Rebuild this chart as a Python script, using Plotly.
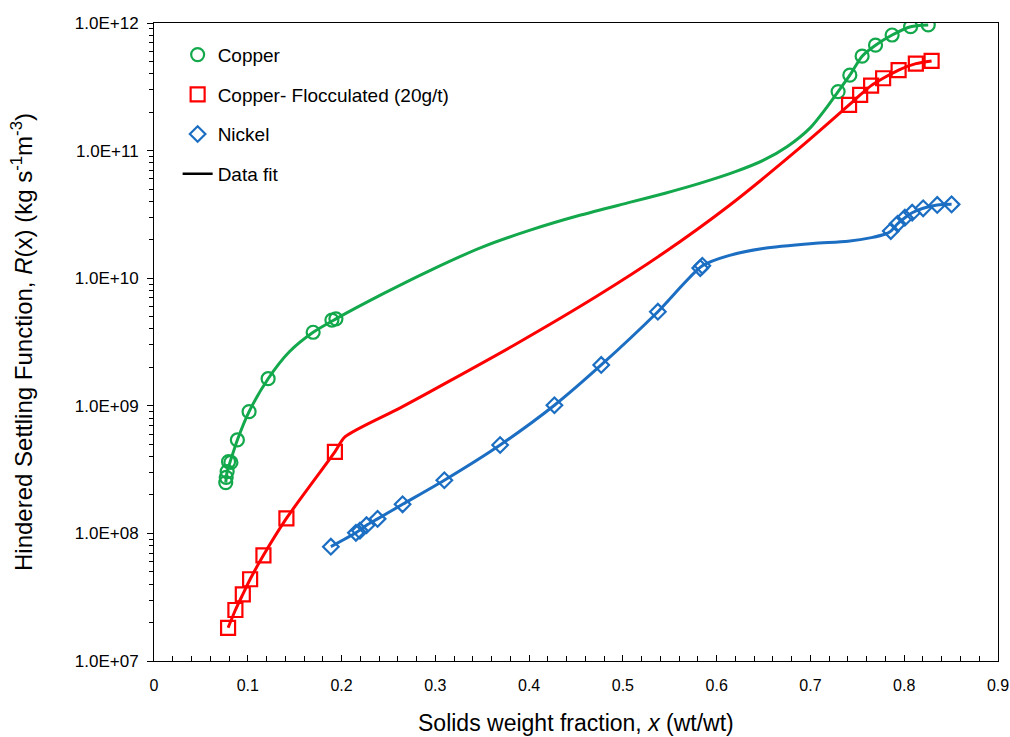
import plotly.graph_objects as go

# ---- measured data: solids weight fraction x (wt/wt) vs hindered settling function R(x) ----
copper_x = [0.0765, 0.0770, 0.0780, 0.0795, 0.0820, 0.0889, 0.1014, 0.1217, 0.1697, 0.1897, 0.1940,
            0.7295, 0.7420, 0.7551, 0.7694, 0.7871, 0.8068, 0.8256]
copper_R = [2.50e8, 2.75e8, 3.05e8, 3.65e8, 3.60e8, 5.40e8, 9.00e8, 1.63e9, 3.77e9, 4.70e9, 4.80e9,
            2.90e11, 3.90e11, 5.50e11, 6.70e11, 8.05e11, 9.35e11, 9.65e11]

floc_x = [0.0790, 0.0868, 0.0947, 0.1025, 0.1167, 0.1412, 0.1929,
          0.7412, 0.7530, 0.7647, 0.7775, 0.7940, 0.8124, 0.8292]
floc_R = [1.82e7, 2.51e7, 3.33e7, 4.37e7, 6.73e7, 1.31e8, 4.35e8,
          2.28e11, 2.73e11, 3.23e11, 3.69e11, 4.28e11, 4.80e11, 5.04e11]

nickel_x = [0.1886, 0.2153, 0.2196, 0.2266, 0.2384, 0.2651, 0.3096, 0.3691, 0.4270, 0.4769, 0.5373,
            0.5825, 0.5847, 0.7857, 0.7929, 0.8007, 0.8085, 0.8202, 0.8352, 0.8505]
nickel_R = [7.87e7, 1.01e8, 1.05e8, 1.16e8, 1.30e8, 1.69e8, 2.61e8, 4.93e8, 1.01e9, 2.09e9, 5.46e9,
            1.20e10, 1.25e10, 2.34e10, 2.67e10, 2.98e10, 3.26e10, 3.53e10, 3.75e10, 3.79e10]

# ---- fitted curves ----
copper_fit_x = [0.0765, 0.0780, 0.0815, 0.0889, 0.1014, 0.1217, 0.1441, 0.1697, 0.1940, 0.2450,
                0.2936, 0.3500, 0.4003, 0.4550, 0.5071, 0.5450, 0.5818, 0.6200, 0.6500, 0.6750,
                0.7000, 0.7170, 0.7295, 0.7420, 0.7551, 0.7694, 0.7871, 0.8068, 0.8256]
copper_fit_R = [2.50e8, 3.05e8, 3.70e8, 5.40e8, 9.00e8, 1.63e9, 2.64e9, 3.77e9, 4.80e9, 7.60e9,
                1.143e10, 1.754e10, 2.371e10, 3.126e10, 3.926e10, 4.634e10, 5.534e10, 6.84e10, 8.41e10,
                1.072e11, 1.514e11, 2.163e11, 2.90e11, 3.90e11, 5.50e11, 6.70e11, 8.05e11, 9.35e11, 9.65e11]

floc_fit_x = [0.0790, 0.0868, 0.0947, 0.1025, 0.1167, 0.1412, 0.1929, 0.2036, 0.2616, 0.3149,
              0.3861, 0.4716, 0.5426, 0.6138, 0.6851, 0.7412, 0.7530, 0.7647, 0.7775, 0.7940,
              0.8124, 0.8292]
floc_fit_R = [1.82e7, 2.51e7, 3.33e7, 4.37e7, 6.73e7, 1.31e8, 4.35e8, 5.70e8, 9.55e8, 1.56e9,
              3.05e9, 7.18e9, 1.56e10, 3.73e10, 9.98e10, 2.28e11, 2.73e11, 3.23e11, 3.69e11, 4.28e11,
              4.80e11, 5.04e11]

nickel_fit_x = [0.1886, 0.2153, 0.2266, 0.2384, 0.2651, 0.3096, 0.3691, 0.4270, 0.4769, 0.5373,
                0.5847, 0.6138, 0.6494, 0.7027, 0.7400, 0.7650, 0.7800, 0.7857, 0.7929, 0.8007,
                0.8085, 0.8202, 0.8352, 0.8505]
nickel_fit_R = [7.87e7, 1.01e8, 1.16e8, 1.30e8, 1.69e8, 2.61e8, 4.93e8, 1.01e9, 2.09e9, 5.46e9,
                1.25e10, 1.51e10, 1.71e10, 1.87e10, 1.95e10, 2.08e10, 2.22e10, 2.34e10, 2.67e10, 2.98e10,
                3.26e10, 3.53e10, 3.75e10, 3.79e10]

y_tick_vals = [1e7, 1e8, 1e9, 1e10, 1e11, 1e12]
y_tick_text = ["1.0E+07", "1.0E+08", "1.0E+09", "1.0E+10", "1.0E+11", "1.0E+12"]
x_tick_vals = [0, 0.1, 0.2, 0.3, 0.4, 0.5, 0.6, 0.7, 0.8, 0.9]
x_tick_text = ["0", "0.1", "0.2", "0.3", "0.4", "0.5", "0.6", "0.7", "0.8", "0.9"]

GREEN = "#12A84B"
RED = "#FF0000"
BLUE = "#1B6EC2"
FONT = "Arial, 'Liberation Sans', sans-serif"

fig = go.Figure()

# fitted lines (no legend entries of their own)
for fx, fy, col in [(copper_fit_x, copper_fit_R, GREEN),
                    (floc_fit_x, floc_fit_R, RED),
                    (nickel_fit_x, nickel_fit_R, BLUE)]:
    fig.add_trace(go.Scatter(x=fx, y=fy, mode="lines", showlegend=False,
                             line=dict(color=col, width=3, shape="spline", smoothing=0.7),
                             hoverinfo="skip"))

# measured points
fig.add_trace(go.Scatter(x=copper_x, y=copper_R, mode="markers", name="Copper", legendgroup="a",
                         marker=dict(symbol="circle-open", size=13, color=GREEN, line=dict(width=2.2))))
fig.add_trace(go.Scatter(x=floc_x, y=floc_R, mode="markers", name="Copper- Flocculated (20g/t)",
                         legendgroup="b",
                         marker=dict(symbol="square-open", size=14, color=RED, line=dict(width=2.2))))
fig.add_trace(go.Scatter(x=nickel_x, y=nickel_R, mode="markers", name="Nickel", legendgroup="c",
                         marker=dict(symbol="diamond-open", size=12, color=BLUE, line=dict(width=2.2))))
# legend key for the fitted curves
fig.add_trace(go.Scatter(x=[None], y=[None], mode="lines", name="Data fit", legendgroup="d",
                         line=dict(color="black", width=2.5)))

fig.update_layout(
    width=1010, height=737,
    margin=dict(l=154, r=12, t=23, b=76),
    paper_bgcolor="white", plot_bgcolor="white",
    font=dict(family=FONT, color="black"),
    legend=dict(x=0.028, y=0.98, xanchor="left", yanchor="top",
                font=dict(size=19, family=FONT), tracegroupgap=12,
                bgcolor="rgba(0,0,0,0)", borderwidth=0),
    xaxis=dict(range=[0, 0.9], tickmode="array", tickvals=x_tick_vals, ticktext=x_tick_text,
               ticks="inside", ticklen=6, tickwidth=1, tickcolor="black",
               minor=dict(dtick=0.02, ticks="inside", ticklen=5, tickwidth=1, tickcolor="black"),
               showline=True, linecolor="black", linewidth=1, mirror=True,
               showgrid=False, zeroline=False, automargin=False,
               tickfont=dict(size=16, family=FONT), ticklabelstandoff=10),
    yaxis=dict(type="log", range=[7, 12], tickmode="array", tickvals=y_tick_vals, ticktext=y_tick_text,
               ticks="outside", ticklen=6, tickwidth=1, tickcolor="black",
               minor=dict(dtick="D1", ticks="outside", ticklen=4, tickwidth=1, tickcolor="black"),
               showline=True, linecolor="black", linewidth=1, mirror=True,
               showgrid=False, zeroline=False, automargin=False,
               tickfont=dict(size=17, family=FONT), ticklabelstandoff=5),
    annotations=[
        dict(text="Solids weight fraction, <i>x</i> (wt/wt)", xref="paper", yref="paper",
             x=0.5, y=0, yshift=-62, xanchor="center", yanchor="middle", showarrow=False,
             font=dict(size=23, family=FONT)),
        dict(text="Hindered Settling Function, <i>R</i>(x) (kg s<sup>-1</sup>m<sup>-3</sup>)",
             xref="paper", yref="paper", x=0, y=0.5, xshift=-132, xanchor="center", yanchor="middle",
             textangle=-90, showarrow=False, font=dict(size=24, family=FONT)),
    ],
)

fig.write_html("out.html")
